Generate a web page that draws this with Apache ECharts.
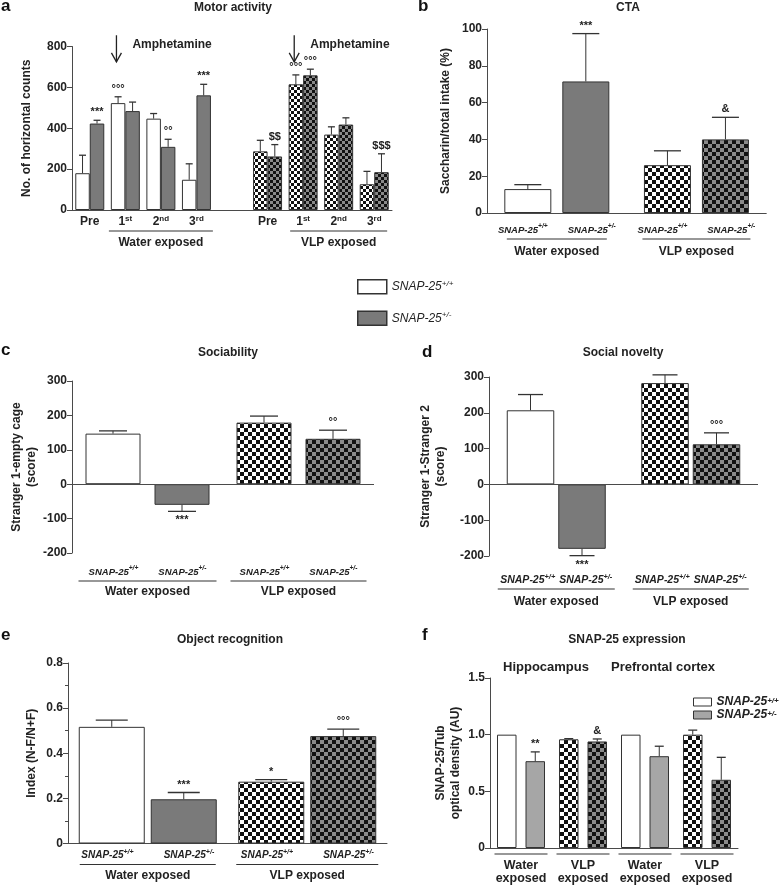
<!DOCTYPE html>
<html><head><meta charset="utf-8">
<script src="https://cdn.jsdelivr.net/npm/echarts@6/dist/echarts.min.js"></script>
<style>html,body{margin:0;padding:0;background:#fff}#c{width:784px;height:891px}</style>
</head><body><div id="c"></div><script>
// ---------------- DATA ----------------
const gene = 'SNAP-25';
const genotypes = ['+/+', '+/-'];
const exposureGroups = ['Water exposed', 'VLP exposed'];

// (a) Motor activity
const motorSessions = ['Pre', '1st', '2nd', '3rd'];
const motorTicks = [0, 200, 400, 600, 800];
const motorWaterWT = [180, 523, 447, 148];
const motorWaterWTUpper = [268, 554, 472, 226];
const motorWaterHet = [423, 484, 309, 561];
const motorWaterHetUpper = [439, 528, 346, 615];
const motorVlpWT = [287, 615, 369, 126];
const motorVlpWTUpper = [341, 661, 407, 189];
const motorVlpHet = [262, 659, 418, 185];
const motorVlpHetUpper = [320, 689, 451, 275];
const motorSigWaterWT = ['', '°°°', '', ''];
const motorSigWaterHet = ['***', '', '°°', '***'];
const motorSigVlpWT = ['', '°°°', '', ''];
const motorSigVlpHet = ['$$', '°°°', '', '$$$'];

// (b) CTA
const ctaTicks = [0, 20, 40, 60, 80, 100];
const ctaWT = [13, 26];
const ctaWTUpper = [15.4, 33.8];
const ctaHet = [71.5, 40];
const ctaHetUpper = [97.5, 52];
const ctaSigWT = ['', ''];
const ctaSigHet = ['***', '&'];

// (c) Sociability
const socTicks = [-200, -100, 0, 100, 200, 300];
const socWT = [147, 179];
const socWTUpper = [155, 198];
const socHet = [-60, 132];
const socHetUpper = [-79, 157];
const socSigWT = ['', ''];
const socSigHet = ['***', '°°'];

// (d) Social novelty
const novTicks = [-200, -100, 0, 100, 200, 300];
const novWT = [207, 283];
const novWTUpper = [251, 306];
const novHet = [-180, 112];
const novHetUpper = [-199, 144];
const novSigWT = ['', ''];
const novSigHet = ['***', '°°°'];

// (e) Object recognition
const objTicks = [0, 0.2, 0.4, 0.6, 0.8];
const objWT = [0.517, 0.274];
const objWTUpper = [0.547, 0.283];
const objHet = [0.196, 0.476];
const objHetUpper = [0.226, 0.507];
const objSigWT = ['', '*'];
const objSigHet = ['***', '°°°'];

// (f) SNAP-25 expression
const exprRegions = ['Hippocampus', 'Prefrontal cortex'];
const exprCats = ['Water exposed', 'VLP exposed', 'Water exposed', 'VLP exposed'];
const exprTicks = [0, 0.5, 1.0, 1.5];
const exprWT = [1.0, 0.959, 1.0, 1.0];
const exprWTUpper = [null, 0.965, null, 1.04];
const exprHet = [0.766, 0.94, 0.81, 0.602];
const exprHetUpper = [0.848, 0.962, 0.898, 0.80];
const exprSigWT = ['', '', '', ''];
const exprSigHet = ['**', '&', '', ''];

// ---------------- STYLE ----------------
const FONT = '"Liberation Sans", Arial, sans-serif';
const INK = '#222';
const AXIS = '#4a4a4a';
const GRAY = '#7a7a7a';
const LIGHT = '#a6a6a6';
function checker(bg, fg, s) {
  const cv = document.createElement('canvas');
  cv.width = cv.height = 2 * s;
  const c = cv.getContext('2d');
  c.fillStyle = bg; c.fillRect(0, 0, 2 * s, 2 * s);
  c.fillStyle = fg; c.fillRect(0, 0, s, s); c.fillRect(s, s, s, s);
  return { image: cv, repeat: 'repeat' };
}
const PAT_WT = checker('#ffffff', '#111111', 4);
const PAT_HET = checker('#8a8a8a', '#111111', 4);
const PAT_WT_S = checker('#ffffff', '#111111', 3);
const PAT_HET_S = checker('#8a8a8a', '#111111', 3);

const grids = [
  { left: 72, top: 46.5, width: 320, height: 163.5 },
  { left: 487, top: 29, width: 281, height: 184 },
  { left: 72, top: 381, width: 302, height: 172 },
  { left: 489, top: 377, width: 269, height: 179 },
  { left: 68, top: 663, width: 319, height: 185 },
  { left: 490, top: 678, width: 248, height: 170 }
];

function yAxis(gi, ticks, name, nameGap, fmt, extra) {
  return Object.assign({
    gridIndex: gi, type: 'value',
    min: ticks[0], max: ticks[ticks.length - 1], interval: ticks[1] - ticks[0],
    name, nameLocation: 'middle', nameRotate: 90, nameGap,
    nameTextStyle: { fontFamily: FONT, fontWeight: 'bold', fontSize: 12, color: INK, lineHeight: 15 },
    axisLine: { show: true, lineStyle: { color: AXIS, width: 1 } },
    axisTick: { show: true, length: 5, lineStyle: { color: AXIS } },
    axisLabel: { fontFamily: FONT, fontWeight: 'bold', fontSize: 12, color: INK, margin: 5, formatter: fmt },
    splitLine: { show: false }
  }, extra || {});
}
const dec1 = v => (v === 0 ? '0' : v.toFixed(1));

function genoRich(fs, sp, lnW, tLH, gLH) {
  return {
    g: { fontFamily: FONT, fontWeight: 'bold', fontStyle: 'italic', fontSize: fs, lineHeight: gLH, color: INK, align: 'center' },
    s: { fontFamily: FONT, fontWeight: 'bold', fontStyle: 'italic', fontSize: fs * 0.7, lineHeight: fs * 0.75, verticalAlign: 'top', color: INK, align: 'center' },
    sp: { width: sp, align: 'center' },
    ln0: { width: lnW[0], height: 1, lineHeight: 4, backgroundColor: '#333', align: 'center' },
    ln1: { width: lnW[1], height: 1, lineHeight: 4, backgroundColor: '#333', align: 'center' },
    t: { fontFamily: FONT, fontWeight: 'bold', fontSize: 12, lineHeight: tLH, color: INK, align: 'center' },
    pad: { width: 170, height: 0, lineHeight: 1, align: 'center' }
  };
}
function genoXAxis(gi, cats, margin, rich, onZeroLine) {
  return {
    gridIndex: gi, type: 'category', data: cats,
    axisLine: { show: onZeroLine, onZero: false, lineStyle: { color: AXIS, width: 1 } },
    axisTick: { show: false },
    axisLabel: {
      interval: 0, margin, rich,
      formatter: (v, i) => `{g|${gene}}{s|${genotypes[0]}}{sp|}{g|${gene}}{s|${genotypes[1]}}\n{ln${i}|}\n{t|${v}}\n{pad|}`
    }
  };
}

function errSeries(gi, offset, capW, rows, sigs) {
  return {
    type: 'custom', xAxisIndex: gi, yAxisIndex: gi, z: 5, silent: true,
    data: rows,
    renderItem: (params, api) => {
      const cat = api.value(0), m = api.value(1), u = api.value(2);
      const base = api.coord([cat, m]);
      const x = base[0] + offset;
      const kids = [];
      let endY = base[1];
      if (u !== m) {
        endY = api.coord([cat, u])[1];
        kids.push({ type: 'line', shape: { x1: x, y1: base[1], x2: x, y2: endY }, style: { stroke: '#333', lineWidth: 1 } });
        kids.push({ type: 'line', shape: { x1: x - capW / 2, y1: endY, x2: x + capW / 2, y2: endY }, style: { stroke: '#333', lineWidth: 1.3 } });
      }
      const s = sigs[params.dataIndex];
      if (s) {
        const neg = m < 0;
        kids.push({ type: 'text', style: { text: s, x, y: neg ? endY + 9 : endY - 8, align: 'center', verticalAlign: 'middle', font: 'bold 11px ' + FONT, fill: INK } });
      }
      return { type: 'group', children: kids };
    }
  };
}
const barItem = { borderColor: '#333', borderWidth: 1 };
function barSeries(gi, name, data, bw, gapPx, color, markZero) {
  const s = {
    type: 'bar', name, xAxisIndex: gi, yAxisIndex: gi, data, barWidth: bw,
    barGap: (gapPx / bw * 100) + '%', itemStyle: Object.assign({ color }, barItem),
    emphasis: { disabled: true }, z: 2
  };
  if (markZero) s.markLine = { silent: true, symbol: 'none', label: { show: false }, lineStyle: { color: AXIS, type: 'solid', width: 1 }, data: [{ yAxis: 0 }] };
  return s;
}
const rows = (vals, ups, idx) => vals.map((v, i) => [idx ? idx[i] : i, v, ups[i] == null ? v : ups[i]]);

// ---- panel a assembly ----
const vlpStart = motorSessions.length + 1;
const motorAxis = [...motorSessions, '', ...motorSessions];
function motorBars(w, v, cw, cv) {
  const d = new Array(motorAxis.length).fill('-');
  w.forEach((x, i) => d[i] = { value: x, itemStyle: { color: cw } });
  v.forEach((x, i) => d[vlpStart + i] = { value: x, itemStyle: { color: cv } });
  return d;
}
const waterIdx = motorSessions.map((_, i) => i), vlpIdx = motorSessions.map((_, i) => vlpStart + i);
const A = { bw: 14.5, gap: 0, cap: 7 };
const supFmt = v => { const m = v.match(/^(\d)(st|nd|rd)$/); return m ? `{n|${m[1]}}{s|${m[2]}}` : `{n|${v}}`; };

// panels b-e builder
function twoGroup(gi, wt, wtU, het, hetU, sigW, sigH, L) {
  const off = (L.bw + L.gap) / 2;
  return [
    barSeries(gi, gene + genotypes[0], [{ value: wt[0], itemStyle: { color: '#fff' } }, { value: wt[1], itemStyle: { color: PAT_WT } }], L.bw, L.gap, '#fff', L.zero),
    barSeries(gi, gene + genotypes[1], [{ value: het[0], itemStyle: { color: GRAY } }, { value: het[1], itemStyle: { color: PAT_HET } }], L.bw, L.gap, GRAY),
    errSeries(gi, -off, L.cap, rows(wt, wtU), sigW),
    errSeries(gi, off, L.cap, rows(het, hetU), sigH)
  ];
}
const LB = { bw: 47, gap: 11, cap: 27 };
const LC = { bw: 55, gap: 14, cap: 28, zero: true };
const LD = { bw: 47.5, gap: 4, cap: 25, zero: true };
const LE = { bw: 66, gap: 6, cap: 32 };
const LF = { bw: 19.5, gap: 9, cap: 9 };
const exprWTColors = exprCats.map(c => (c === exposureGroups[0] ? '#fff' : PAT_WT));
const exprHetColors = exprCats.map(c => (c === exposureGroups[0] ? LIGHT : PAT_HET));

const titleStyle = { fontFamily: FONT, fontWeight: 'bold', fontSize: 12, color: INK };
const letterStyle = { fontFamily: FONT, fontWeight: 'bold', fontSize: 17, color: '#111' };
const T = (text, left, top, style, align) => ({ text, left, top, padding: 0, textAlign: align || 'left', textStyle: style });

const legendRich = (bold) => ({
  n: { fontFamily: FONT, fontStyle: 'italic', fontWeight: bold ? 'bold' : 'normal', fontSize: 12, color: INK, lineHeight: bold ? 11 : 14 },
  s: { fontFamily: FONT, fontStyle: 'italic', fontWeight: bold ? 'bold' : 'normal', fontSize: 8, color: INK, lineHeight: 8, verticalAlign: 'top' }
});
const legendFmt = name => `{n|${gene}}{s|${name.slice(gene.length)}}`;

const option = {
  animation: false,
  backgroundColor: '#fff',
  title: [
    T('a', 1, -2, letterStyle), T('b', 418, -2, letterStyle), T('c', 1, 342, letterStyle),
    T('d', 422, 344, letterStyle), T('e', 1, 627, letterStyle), T('f', 422, 627, letterStyle),
    T('Motor activity', 233, 2, titleStyle, 'center'),
    T('CTA', 628, 2, titleStyle, 'center'),
    T('Sociability', 228, 347, titleStyle, 'center'),
    T('Social novelty', 623, 347, titleStyle, 'center'),
    T('Object recognition', 230, 634, titleStyle, 'center'),
    T('SNAP-25 expression', 627, 634, titleStyle, 'center'),
    T(exprRegions[0], 546, 661, Object.assign({}, titleStyle, { fontSize: 13 }), 'center'),
    T(exprRegions[1], 663, 661, Object.assign({}, titleStyle, { fontSize: 13 }), 'center')
  ],
  legend: [
    {
      selectedMode: false, orient: 'vertical', left: 357, top: 279, padding: 0,
      itemWidth: 29, itemHeight: 14, itemGap: 16, icon: 'rect',
      itemStyle: { borderColor: '#333', borderWidth: 1.5 },
      data: [{ name: gene + genotypes[0], itemStyle: { color: '#fff' } }, { name: gene + genotypes[1], itemStyle: { color: GRAY } }],
      formatter: legendFmt, textStyle: { rich: legendRich(false) }
    },
    {
      selectedMode: false, orient: 'vertical', left: 693, top: 696, padding: 0,
      itemWidth: 18, itemHeight: 8, itemGap: 1, icon: 'rect',
      itemStyle: { borderColor: '#333', borderWidth: 1 },
      data: [{ name: gene + genotypes[0], itemStyle: { color: '#fff' } }, { name: gene + genotypes[1], itemStyle: { color: LIGHT } }],
      formatter: legendFmt, textStyle: { rich: legendRich(true) }
    }
  ],
  grid: grids.map(g => Object.assign({ containLabel: false }, g)),
  xAxis: [
    {
      gridIndex: 0, type: 'category', data: motorAxis,
      axisLine: { show: true, onZero: false, lineStyle: { color: AXIS, width: 1 } },
      axisTick: { show: false },
      axisLabel: {
        interval: 0, margin: 5,
        formatter: (v, i) => {
          if (!v) return '';
          let s = supFmt(v);
          if (i === 2) s += `\n{lw|}\n{t|${exposureGroups[0]}}`;
          if (i === vlpStart + 2) s += `\n{lv|}\n{t|${exposureGroups[1]}}`;
          return s;
        },
        rich: {
          n: { fontFamily: FONT, fontWeight: 'bold', fontSize: 12, lineHeight: 14, color: INK, align: 'center' },
          s: { fontFamily: FONT, fontWeight: 'bold', fontSize: 8, lineHeight: 8, verticalAlign: 'top', color: INK, align: 'center' },
          lw: { width: 104, height: 1, lineHeight: 4, backgroundColor: '#333', align: 'center' },
          lv: { width: 97, height: 1, lineHeight: 4, backgroundColor: '#333', align: 'center' },
          t: { fontFamily: FONT, fontWeight: 'bold', fontSize: 12, lineHeight: 20, color: INK, align: 'center' }
        }
      }
    },
    genoXAxis(1, exposureGroups, 10, genoRich(9.5, 20, [100, 108], 22, 14), true),
    genoXAxis(2, exposureGroups, 12, genoRich(9.5, 20, [138, 136], 18, 14), false),
    genoXAxis(3, exposureGroups, 17, genoRich(10.5, 4, [117, 116], 22, 14), false),
    genoXAxis(4, exposureGroups, 5, genoRich(10, 30, [136, 142], 18, 14), true),
    {
      gridIndex: 5, type: 'category', data: exprCats,
      axisLine: { show: true, onZero: false, lineStyle: { color: AXIS, width: 1 } },
      axisTick: { show: false },
      axisLabel: {
        interval: 0, margin: 1,
        formatter: v => { const p = v.split(' '); return `{ln|}\n{t|${p[0]}}\n{t|${p[1]}}`; },
        rich: {
          ln: { width: 53, height: 1, lineHeight: 10, backgroundColor: '#333', align: 'center' },
          t: { fontFamily: FONT, fontWeight: 'bold', fontSize: 12.5, lineHeight: 13, color: INK, align: 'center' }
        }
      }
    }
  ],
  yAxis: [
    yAxis(0, motorTicks, 'No. of horizontal counts', 38),
    yAxis(1, ctaTicks, 'Saccharin/total intake (%)', 34),
    yAxis(2, socTicks, 'Stranger 1-empty cage\n(score)', 33),
    yAxis(3, novTicks, 'Stranger 1-Stranger 2\n(score)', 41),
    yAxis(4, objTicks, 'Index (N-F/N+F)', 29, dec1, { minorTick: { show: true, splitNumber: 2, length: 3, lineStyle: { color: AXIS } } }),
    yAxis(5, exprTicks, 'SNAP-25/Tub\noptical density (AU)', 27, dec1)
  ],
  series: [
    // (a)
    barSeries(0, gene + genotypes[0], motorBars(motorWaterWT, motorVlpWT, '#fff', PAT_WT_S), A.bw, A.gap, '#fff'),
    barSeries(0, gene + genotypes[1], motorBars(motorWaterHet, motorVlpHet, GRAY, PAT_HET_S), A.bw, A.gap, GRAY),
    errSeries(0, -A.bw / 2, A.cap, [...rows(motorWaterWT, motorWaterWTUpper, waterIdx), ...rows(motorVlpWT, motorVlpWTUpper, vlpIdx)], [...motorSigWaterWT, ...motorSigVlpWT]),
    errSeries(0, A.bw / 2, A.cap, [...rows(motorWaterHet, motorWaterHetUpper, waterIdx), ...rows(motorVlpHet, motorVlpHetUpper, vlpIdx)], [...motorSigWaterHet, ...motorSigVlpHet]),
    // (b)-(e)
    ...twoGroup(1, ctaWT, ctaWTUpper, ctaHet, ctaHetUpper, ctaSigWT, ctaSigHet, LB),
    ...twoGroup(2, socWT, socWTUpper, socHet, socHetUpper, socSigWT, socSigHet, LC),
    ...twoGroup(3, novWT, novWTUpper, novHet, novHetUpper, novSigWT, novSigHet, LD),
    ...twoGroup(4, objWT, objWTUpper, objHet, objHetUpper, objSigWT, objSigHet, LE),
    // (f)
    barSeries(5, gene + genotypes[0], exprWT.map((v, i) => ({ value: v, itemStyle: { color: exprWTColors[i] } })), LF.bw, LF.gap, '#fff'),
    barSeries(5, gene + genotypes[1], exprHet.map((v, i) => ({ value: v, itemStyle: { color: exprHetColors[i] } })), LF.bw, LF.gap, LIGHT),
    errSeries(5, -(LF.bw + LF.gap) / 2, LF.cap, rows(exprWT, exprWTUpper), exprSigWT),
    errSeries(5, (LF.bw + LF.gap) / 2, LF.cap, rows(exprHet, exprHetUpper), exprSigHet)
  ]
};

const chart = echarts.init(document.getElementById('c'), null, { renderer: 'canvas' });
chart.setOption(option);

// Amphetamine arrows (positions from the axis scales)
const px = (cat, val) => chart.convertToPixel({ xAxisIndex: 0, yAxisIndex: 0 }, [cat, val]);
const arrowGraphics = [];
[[0, 1], [vlpStart, vlpStart + 1]].forEach(([c0, c1]) => {
  const p0 = px(c0, 855), p1 = px(c1, 855);
  const x = p0[0] + 0.75 * (p1[0] - p0[0]);
  const yTop = p0[1], yBot = px(c0, 725)[1], yText = px(c0, 807)[1];
  arrowGraphics.push(
    { type: 'line', shape: { x1: x, y1: yTop, x2: x, y2: yBot }, style: { stroke: '#222', lineWidth: 1.3 } },
    { type: 'polyline', shape: { points: [[x - 5, yBot - 9], [x, yBot], [x + 5, yBot - 9]] }, style: { stroke: '#222', lineWidth: 1.3, fill: null } },
    { type: 'text', x: x + 16, y: yText, style: { text: 'Amphetamine', font: 'bold 12px ' + FONT, fill: INK, verticalAlign: 'middle', align: 'left' } }
  );
});
chart.setOption({ graphic: arrowGraphics });
</script></body></html>
